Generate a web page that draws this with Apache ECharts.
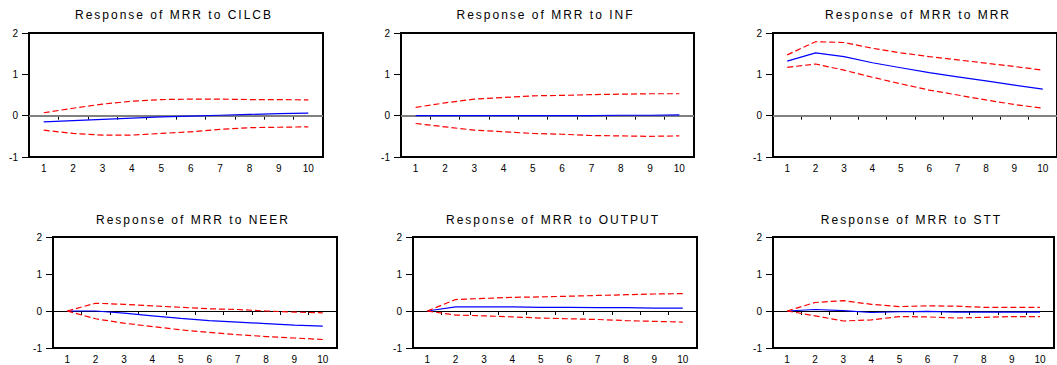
<!DOCTYPE html>
<html>
<head>
<meta charset="utf-8">
<script src="https://cdn.jsdelivr.net/npm/echarts@6/dist/echarts.min.js"></script>
<style>
  html, body { margin: 0; padding: 0; background: #fff; }
  #chart { width: 1057px; height: 365px; }
  /* titles are drawn with wide letter spacing in the original */
  #chart text[style*="sans-serif"] { letter-spacing: 2px; }
</style>
</head>
<body>
<div id="chart"></div>
<script>
const periods = ['1', '2', '3', '4', '5', '6', '7', '8', '9', '10'];

const cilcbResp = [-0.15, -0.12, -0.09, -0.06, -0.03, -0.01, 0.01, 0.03, 0.05, 0.06];
const cilcbUpper = [0.07, 0.18, 0.28, 0.35, 0.39, 0.40, 0.40, 0.39, 0.39, 0.38];
const cilcbLower = [-0.35, -0.43, -0.47, -0.47, -0.43, -0.39, -0.33, -0.29, -0.28, -0.27];

const infResp = [0.00, 0.00, 0.00, 0.00, 0.00, 0.00, 0.00, 0.01, 0.01, 0.02];
const infUpper = [0.20, 0.31, 0.40, 0.44, 0.48, 0.49, 0.51, 0.52, 0.53, 0.53];
const infLower = [-0.19, -0.27, -0.35, -0.39, -0.43, -0.45, -0.48, -0.49, -0.50, -0.49];

const mrrResp = [1.32, 1.52, 1.43, 1.28, 1.16, 1.04, 0.94, 0.84, 0.74, 0.64];
const mrrUpper = [1.47, 1.79, 1.77, 1.63, 1.52, 1.43, 1.35, 1.27, 1.19, 1.10];
const mrrLower = [1.17, 1.25, 1.10, 0.93, 0.77, 0.62, 0.50, 0.38, 0.27, 0.18];

const neerResp = [0.00, 0.00, -0.06, -0.13, -0.20, -0.26, -0.30, -0.34, -0.38, -0.41];
const neerUpper = [0.00, 0.21, 0.18, 0.14, 0.10, 0.06, 0.04, 0.00, -0.03, -0.05];
const neerLower = [0.00, -0.21, -0.33, -0.42, -0.51, -0.58, -0.64, -0.69, -0.73, -0.77];

const outputResp = [0.00, 0.11, 0.11, 0.11, 0.10, 0.10, 0.09, 0.09, 0.08, 0.08];
const outputUpper = [0.00, 0.31, 0.34, 0.37, 0.38, 0.40, 0.42, 0.44, 0.46, 0.47];
const outputLower = [0.00, -0.11, -0.13, -0.16, -0.19, -0.21, -0.23, -0.26, -0.28, -0.30];

const sttResp = [0.00, 0.04, 0.01, -0.04, -0.02, -0.01, -0.03, -0.03, -0.03, -0.03];
const sttUpper = [0.00, 0.23, 0.28, 0.18, 0.12, 0.14, 0.13, 0.10, 0.10, 0.10];
const sttLower = [0.00, -0.13, -0.27, -0.24, -0.15, -0.16, -0.19, -0.17, -0.15, -0.15];

const yMin = -1, yMax = 2, yStep = 1;

// left, top, width, height of each plot box
const panels = [
  { title: 'Response of MRR to CILCB', mid: cilcbResp, up: cilcbUpper, lo: cilcbLower, box: [29, 33, 294, 124], titleTop: 9, zero: ['#808080', 2] },
  { title: 'Response of MRR to INF', mid: infResp, up: infUpper, lo: infLower, box: [401, 33, 293, 124], titleTop: 9, zero: ['#808080', 2] },
  { title: 'Response of MRR to MRR', mid: mrrResp, up: mrrUpper, lo: mrrLower, box: [773, 33, 294, 124], titleTop: 9, zero: ['#808080', 2] },
  { title: 'Response of MRR to NEER', mid: neerResp, up: neerUpper, lo: neerLower, box: [53, 237, 284, 111], titleTop: 214, zero: ['#000', 1] },
  { title: 'Response of MRR to OUTPUT', mid: outputResp, up: outputUpper, lo: outputLower, box: [413, 237, 284, 111], titleTop: 214, zero: ['#000', 1] },
  { title: 'Response of MRR to STT', mid: sttResp, up: sttUpper, lo: sttLower, box: [773, 237, 281, 111], titleTop: 214, zero: ['#000', 1] }
];

const labelFont = 'Liberation Sans';

let myChart = echarts.init(document.getElementById('chart'), null, { renderer: 'svg' });

let option = {
  animation: false,
  backgroundColor: '#fff',
  title: [],
  grid: [],
  xAxis: [],
  yAxis: [],
  series: []
};

panels.forEach(function (p, i) {
  const [left, top, width, height] = p.box;
  option.title.push({
    text: p.title,
    left: left + width / 2 - 2,
    top: p.titleTop,
    textAlign: 'center',
    padding: 0,
    textStyle: { fontSize: 12, fontWeight: 'normal', color: '#000', fontFamily: 'Liberation Sans, sans-serif' }
  });
  option.grid.push({
    left: left, top: top, width: width, height: height,
    show: true, borderColor: '#000', borderWidth: 2, backgroundColor: 'transparent'
  });
  option.xAxis.push({
    type: 'category',
    gridIndex: i,
    data: periods,
    boundaryGap: true,
    axisLine: { show: false },
    axisTick: { show: true, length: 4, lineStyle: { color: '#000', width: 1 } },
    axisLabel: { interval: 0, fontSize: 10, color: '#000', margin: 6, fontFamily: labelFont },
    splitLine: { show: false }
  });
  option.yAxis.push({
    type: 'value',
    gridIndex: i,
    min: yMin, max: yMax, interval: yStep,
    axisLine: { show: false },
    axisTick: { show: true, length: 7, lineStyle: { color: '#000', width: 1 } },
    axisLabel: { fontSize: 10, color: '#000', margin: 11, fontFamily: labelFont },
    splitLine: { show: false }
  });
  option.series.push({
    type: 'line', xAxisIndex: i, yAxisIndex: i,
    data: p.mid, symbol: 'none', silent: true, z: 3,
    lineStyle: { color: '#0000ff', width: 1.2 },
    markLine: {
      silent: true, symbol: 'none', z: 1, animation: false,
      label: { show: false },
      lineStyle: { color: p.zero[0], width: p.zero[1], type: 'solid' },
      data: [{ yAxis: 0 }]
    }
  });
  [p.up, p.lo].forEach(function (band) {
    option.series.push({
      type: 'line', xAxisIndex: i, yAxisIndex: i,
      data: band, symbol: 'none', silent: true, z: 3,
      lineStyle: { color: '#ff0000', width: 1.2, type: [6, 3] }
    });
  });
});

option && myChart.setOption(option);
</script>
</body>
</html>
